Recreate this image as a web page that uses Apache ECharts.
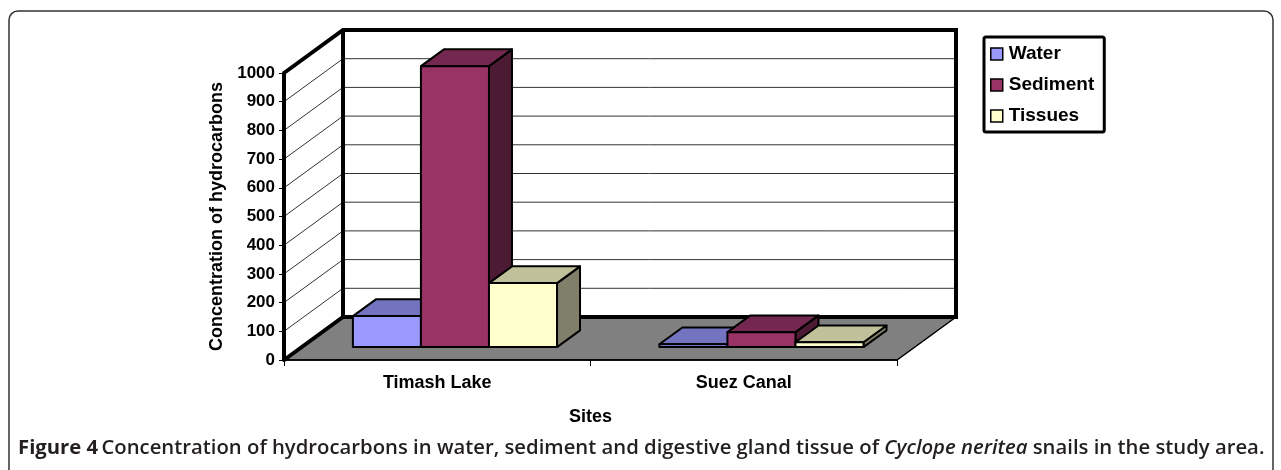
<!DOCTYPE html>
<html>
<head>
<meta charset="utf-8">
<script src="https://cdn.jsdelivr.net/npm/echarts@6/dist/echarts.min.js"></script>
<style>
html,body{margin:0;padding:0;background:#fff;}
#chart{width:1281px;height:470px;}
</style>
</head>
<body>
<div id="chart"></div>
<script>
// ---- data ----
var categories = ['Timash Lake', 'Suez Canal'];
var seriesNames = ['Water', 'Sediment', 'Tissues'];
var water = [108, 10];
var sediment = [979, 52];
var tissues = [223, 17];
var yTicks = [0, 100, 200, 300, 400, 500, 600, 700, 800, 900, 1000];

// ---- styles ----
var FONT = '"Liberation Sans", Arial, sans-serif';
var DX = 59, DY = -43;        // depth projection of the 3D box
var F1 = 0.30, F2 = 0.69;     // bar front / back depth fractions
var BAR_FRAC = 0.222;         // bar width as fraction of category band
var palette = [
  {front: '#9999FF', top: '#7373C0', side: '#4D4D80'},
  {front: '#993366', top: '#74284F', side: '#4D1A33'},
  {front: '#FFFFCC', top: '#C0C09A', side: '#80806A'}
];

function barRender(k) {
  return function (params, api) {
    var cat = api.value(0), val = api.value(1);
    var base = api.coord([cat, 0]);
    var top = api.coord([cat, val]);
    var bw = api.size([1, 0])[0];
    var w = bw * BAR_FRAC;
    var x = base[0] - 1.5 * w + k * w + DX * F1;
    var yb = base[1] + DY * F1;
    var yt = top[1] + DY * F1;
    var ddx = DX * (F2 - F1), ddy = DY * (F2 - F1);
    var c = palette[k];
    var st = {stroke: '#000', lineWidth: 2, lineJoin: 'round'};
    return {
      type: 'group',
      children: [
        {type: 'polygon', shape: {points: [[x + w, yb], [x + w + ddx, yb + ddy], [x + w + ddx, yt + ddy], [x + w, yt]]},
          style: Object.assign({fill: c.side}, st)},
        {type: 'polygon', shape: {points: [[x, yt], [x + w, yt], [x + w + ddx, yt + ddy], [x + ddx, yt + ddy]]},
          style: Object.assign({fill: c.top}, st)},
        {type: 'polygon', shape: {points: [[x, yb], [x + w, yb], [x + w, yt], [x, yt]]},
          style: Object.assign({fill: c.front}, st)}
      ]
    };
  };
}

function wallRender(params, api) {
  var bw = api.size([1, 0])[0];
  var p0 = api.coord([0, 0]);
  var p1 = api.coord([categories.length - 1, 0]);
  var x0 = p0[0] - bw / 2, x1 = p1[0] + bw / 2;
  var y0 = p0[1];
  var yTop = api.coord([0, yTicks[yTicks.length - 1]])[1];
  var ch = [];
  ch.push({type: 'polygon', shape: {points: [[x0, y0], [x0, yTop], [x0 + DX, yTop + DY], [x0 + DX, y0 + DY]]},
    style: {fill: '#fff', stroke: null}});
  ch.push({type: 'polygon', shape: {points: [[x0 + DX, y0 + DY], [x0 + DX, yTop + DY], [x1 + DX, yTop + DY], [x1 + DX, y0 + DY]]},
    style: {fill: '#fff', stroke: null}});
  ch.push({type: 'polygon', shape: {points: [[x0, y0], [x1, y0], [x1 + DX, y0 + DY], [x0 + DX, y0 + DY]]},
    style: {fill: '#808080', stroke: '#000', lineWidth: 1.5}});
  for (var i = 1; i < yTicks.length - 1; i++) {
    var y = api.coord([0, yTicks[i]])[1];
    ch.push({type: 'polyline', shape: {points: [[x0, y], [x0 + DX, y + DY], [x1 + DX, y + DY]]},
      style: {fill: null, stroke: '#333', lineWidth: 1}});
  }
  ch.push({type: 'polyline', shape: {points: [[x0, y0], [x0 + DX, y0 + DY], [x1 + DX, y0 + DY], [x1 + DX, yTop + DY], [x0 + DX, yTop + DY], [x0, yTop]]},
    style: {fill: null, stroke: '#000', lineWidth: 4, lineJoin: 'miter'}});
  ch.push({type: 'line', shape: {x1: x0 + DX, y1: y0 + DY, x2: x0 + DX, y2: yTop + DY},
    style: {stroke: '#000', lineWidth: 4}});
  return {type: 'group', children: ch};
}

var chart = echarts.init(document.getElementById('chart'), null, {renderer: 'canvas'});
var seriesData = [water, sediment, tissues];
var series = [{
  name: 'walls', type: 'custom', silent: true, z: 1,
  data: [[0, 0]], renderItem: wallRender
}];
seriesData.forEach(function (arr, k) {
  series.push({
    name: seriesNames[k], type: 'custom', z: 3 + k,
    itemStyle: {color: palette[k].front, borderColor: '#000', borderWidth: 1.5},
    data: arr.map(function (v, i) { return [i, v]; }),
    renderItem: barRender(k)
  });
});

var option = {
  animation: false,
  backgroundColor: '#fff',
  grid: {left: 284, top: 73, width: 613, height: 287, containLabel: false},
  legend: {
    data: seriesNames, orient: 'vertical', left: 984, top: 37,
    padding: [7, 10, 6, 6], itemGap: 11, itemWidth: 12, itemHeight: 12,
    backgroundColor: '#fff', borderColor: '#000', borderWidth: 3, borderRadius: 2,
    icon: 'rect', selectedMode: false,
    itemStyle: {borderColor: '#000', borderWidth: 1.5},
    textStyle: {fontFamily: FONT, fontWeight: 'bold', fontSize: 19, lineHeight: 20, color: '#000', padding: [0, 0, 0, 1]}
  },
  xAxis: {
    type: 'category', data: categories, z: 10,
    axisLine: {show: true, lineStyle: {color: '#000', width: 1.5}},
    axisTick: {show: true, length: 6, lineStyle: {color: '#000', width: 1}},
    axisLabel: {margin: 14, color: '#000', fontFamily: FONT, fontWeight: 'bold', fontSize: 18},
    splitLine: {show: false},
    name: 'Sites', nameLocation: 'middle', nameGap: 48,
    nameTextStyle: {color: '#000', fontFamily: FONT, fontWeight: 'bold', fontSize: 18}
  },
  yAxis: {
    type: 'value', min: 0, max: 1000, interval: 100, z: 10,
    axisLine: {show: true, lineStyle: {color: '#000', width: 4}},
    axisTick: {show: true, length: 5, lineStyle: {color: '#000', width: 1}},
    axisLabel: {margin: 9, color: '#000', fontFamily: FONT, fontWeight: 'bold', fontSize: 17,
      formatter: function (v) { return String(v); }},
    splitLine: {show: false},
    name: 'Concentration of hydrocarbons', nameLocation: 'middle', nameGap: 58, nameRotate: 90,
    nameTextStyle: {color: '#000', fontFamily: FONT, fontWeight: 'bold', fontSize: 18}
  },
  series: series,
  graphic: [
    {type: 'rect', z: 0, silent: true, shape: {x: 9, y: 11, width: 1264, height: 520, r: 9},
      style: {fill: 'none', stroke: '#333', lineWidth: 1.5}},
    {type: 'text', left: 18, top: 438, z: 20, silent: true,
      style: {
        text: '{b|Figure 4} {s|Concentration of hydrocarbons in water, sediment and digestive gland tissue of }{i|Cyclope neritea}{s| snails in the study area.}',
        rich: {
          b: {fontFamily: '"Open Sans", sans-serif', fontWeight: 'bold', fontSize: 20.3, fill: '#231F20'},
          s: {fontFamily: '"Open Sans", sans-serif', fontWeight: 600, fontSize: 20.3, fill: '#231F20'},
          i: {fontFamily: '"Open Sans", sans-serif', fontWeight: 600, fontStyle: 'italic', fontSize: 20.3, fill: '#231F20'}
        }
      }}
  ]
};
chart.setOption(option);
</script>
</body>
</html>
